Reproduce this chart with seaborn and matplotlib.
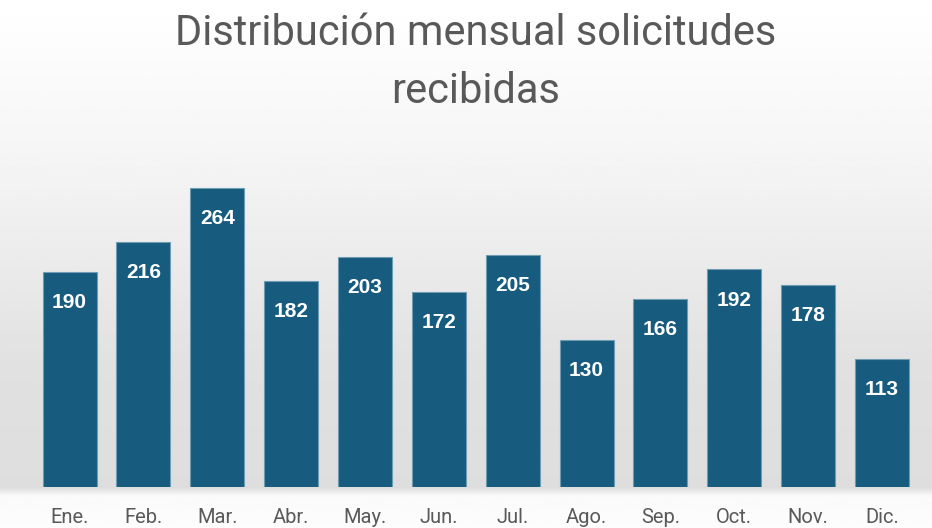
import numpy as np
import pandas as pd
import matplotlib.pyplot as plt
import seaborn as sns

# monthly data
meses = ["Ene.", "Feb.", "Mar.", "Abr.", "May.", "Jun.", "Jul.", "Ago.", "Sep.", "Oct.", "Nov.", "Dic."]
solicitudes = [190, 216, 264, 182, 203, 172, 205, 130, 166, 192, 178, 113]

df = pd.DataFrame({"Mes": meses, "Solicitudes": solicitudes})

sns.set_style("white")
plt.rcParams['font.family'] = ['Roboto', 'DejaVu Sans']

fig = plt.figure(figsize=(9.32, 5.28), dpi=100)

# background gradient: white at top, light gray lower down, white under the axis
bg = fig.add_axes([0, 0, 1, 1], zorder=0)
yy = np.linspace(0, 1, 400)
shade = np.interp(yy, [0, 0.06, 0.075, 0.3, 0.7, 1.0], [0.99, 0.98, 0.87, 0.88, 0.96, 1.0])
bg.imshow(np.tile(shade[:, None], (1, 10)), cmap="gray", vmin=0, vmax=1,
          aspect="auto", extent=[0, 1, 0, 1], origin="lower")
bg.set_axis_off()

ax = fig.add_axes([0.035, 0.077, 0.951, 0.645], zorder=1)
ax.patch.set_alpha(0)

sns.barplot(data=df, x="Mes", y="Solicitudes", color="#175c7e", saturation=1,
            width=0.73, edgecolor="#6f9bb3", linewidth=0.8, ax=ax)

for i, v in enumerate(solicitudes):
    ax.text(i, v - 27, str(v), ha="center", va="center", color="white",
            fontsize=15, fontweight="bold", family=['Liberation Sans', 'DejaVu Sans'])

ax.set_ylim(0, 300)
ax.set_xlim(-0.5, 11.5)
ax.set_yticks([])
ax.set_xlabel("")
ax.set_ylabel("")
ax.tick_params(axis="x", length=0, labelsize=14.5, labelcolor="#595959", pad=15)
sns.despine(ax=ax, left=True, bottom=True)

fig.text(0.51, 0.937, "Distribución mensual solicitudes", ha="center", va="center",
         fontsize=30, color="#595959")
fig.text(0.51, 0.826, "recibidas", ha="center", va="center",
         fontsize=30, color="#595959")

plt.savefig("out.png", dpi=100)
